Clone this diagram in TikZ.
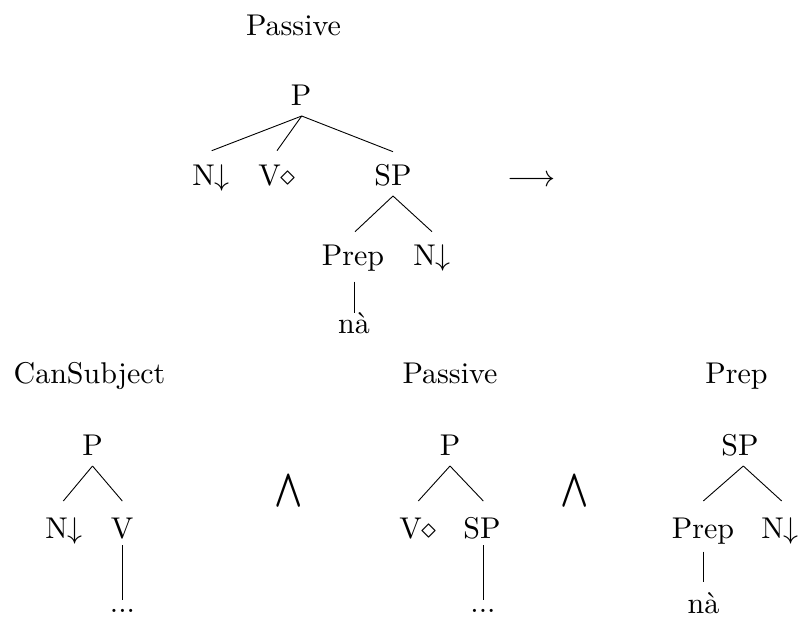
\documentclass[tikz,border=0pt]{standalone}
\usepackage{amssymb}
\usepackage{fontspec}
\newcommand\bigtxt[1]{\scalebox{3}{#1}}
\newcommand\bigand{\scalebox{3.7}[5.4]{\boldmath$\wedge$}}
\begin{document}
\begin{tikzpicture}[x=1pt,y=-1pt,
  lbl/.style={anchor=base,inner sep=0pt,font=\normalsize},
  br/.style={line width=0.9pt}]
\useasboundingbox (0,0) rectangle (803,618);
% top tree
\node[lbl] (t0) at (293.5,36) {\bigtxt{Passive}};
\node[lbl] (p) at (301,105) {\bigtxt{P}};
\node[lbl] (n1) at (211,185) {\bigtxt{N$\downarrow$}};
\node[lbl] (v1) at (277,185) {\bigtxt{V$\diamond$}};
\node[lbl] (sp1) at (393,185) {\bigtxt{SP}};
\node[lbl] (arr) at (531.5,186) {\bigtxt{$\longrightarrow$}};
\node[lbl] (prep1) at (353,265) {\bigtxt{Prep}};
\node[lbl] (n2) at (432,265) {\bigtxt{N$\downarrow$}};
\node[lbl] (na1) at (354,333) {\bigtxt{nà}};
\draw[br] ([yshift=-11pt,xshift=0.7pt]p.base) -- ([yshift=34.3pt,xshift=0.7pt]n1.base);
\draw[br] ([yshift=-11pt,xshift=0.7pt]p.base) -- ([yshift=34.3pt]v1.base);
\draw[br] ([yshift=-11pt,xshift=0.7pt]p.base) -- ([yshift=33.3pt]sp1.base);
\draw[br] ([yshift=-11pt]sp1.base) -- ([yshift=33.3pt,xshift=2pt]prep1.base);
\draw[br] ([yshift=-11pt]sp1.base) -- ([yshift=33.3pt]n2.base);
\draw[br] ([yshift=-16.7pt,xshift=1pt]prep1.base) -- ([yshift=20.3pt]na1.base);
% bottom left
\node[lbl] (t1) at (89.5,383) {\bigtxt{CanSubject}};
\node[lbl] (p2) at (92.5,455) {\bigtxt{P}};
\node[lbl] (n3) at (64,538) {\bigtxt{N$\downarrow$}};
\node[lbl] (v2) at (122,538) {\bigtxt{V}};
\node[lbl] (d1) at (122.5,612) {\bigtxt{...}};
\draw[br] ([yshift=-11pt]p2.base) -- ([yshift=37pt,xshift=-0.7pt]n3.base);
\draw[br] ([yshift=-11pt]p2.base) -- ([yshift=37pt,xshift=0.3pt]v2.base);
\draw[br] ([yshift=-7pt,xshift=0.3pt]v2.base) -- ([yshift=12pt,xshift=-0.2pt]d1.base);
\node[lbl] (w1) at (289,506) {\bigand};
% bottom middle
\node[lbl] (t2) at (450,383) {\bigtxt{Passive}};
\node[lbl] (p3) at (450,455) {\bigtxt{P}};
\node[lbl] (v3) at (418,538) {\bigtxt{V$\diamond$}};
\node[lbl] (sp2) at (482,538) {\bigtxt{SP}};
\node[lbl] (d2) at (483,612) {\bigtxt{...}};
\draw[br] ([yshift=-11pt]p3.base) -- ([yshift=37pt,xshift=0.3pt]v3.base);
\draw[br] ([yshift=-11pt]p3.base) -- ([yshift=37pt,xshift=1.3pt]sp2.base);
\draw[br] ([yshift=-7pt,xshift=1.3pt]sp2.base) -- ([yshift=12pt,xshift=0.3pt]d2.base);
\node[lbl] (w2) at (574.5,506) {\bigand};
% bottom right
\node[lbl] (t3) at (736.5,383) {\bigtxt{Prep}};
\node[lbl] (sp3) at (740,455) {\bigtxt{SP}};
\node[lbl] (prep2) at (703,538) {\bigtxt{Prep}};
\node[lbl] (n4) at (780,538) {\bigtxt{N$\downarrow$}};
\node[lbl] (na2) at (703.5,613) {\bigtxt{nà}};
\draw[br] ([yshift=-11pt,xshift=3.3pt]sp3.base) -- ([yshift=37pt,xshift=0.3pt]prep2.base);
\draw[br] ([yshift=-11pt,xshift=3.3pt]sp3.base) -- ([yshift=37pt,xshift=1.7pt]n4.base);
\draw[br] ([yshift=-13.7pt,xshift=0.3pt]prep2.base) -- ([yshift=31.3pt,xshift=-0.2pt]na2.base);
\end{tikzpicture}
\end{document}
